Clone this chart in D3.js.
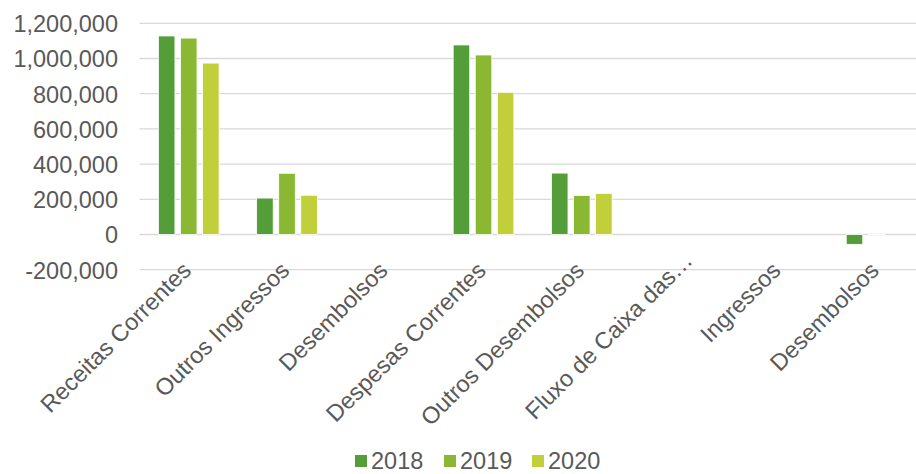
<!DOCTYPE html>
<html>
<head>
<meta charset="utf-8">
<script src="https://cdn.jsdelivr.net/npm/d3@7"></script>
<style>
  body { margin: 0; background: #fff; }
  svg { display: block; }
  text { font-family: "Liberation Sans", Arial, sans-serif; fill: #595959; }
</style>
</head>
<body>
<svg id="chart" width="916" height="474"></svg>
<script>
var categories = ["Receitas Correntes", "Outros Ingressos", "Desembolsos", "Despesas Correntes",
    "Outros Desembolsos", "Fluxo de Caixa das\u2026", "Ingressos", "Desembolsos"];
var years = ["2018", "2019", "2020"];
var values2018 = [1128000, 207000, 0, 1077000, 349000, 0, 0, -56000];
var values2019 = [1116000, 348000, 0, 1020000, 222000, 0, 0, -1500];
var values2020 = [974000, 223000, 0, 808000, 234000, 0, 0, 0];
var yTicks = [-200000, 0, 200000, 400000, 600000, 800000, 1000000, 1200000];
var colors = ["#549E39", "#8AB833", "#C0CF3A"];

var series = [values2018, values2019, values2020];

var margin = { left: 139.6, right: 925.7, top: 23.3, bottom: 269.7 };
var fontSize = 23.5;

var svg = d3.select("#chart");

// plain hyphen for negatives, like the source spreadsheet
var fmt = d3.formatLocale({ decimal: ".", thousands: ",", grouping: [3], currency: ["", ""], minus: "-" })
    .format(",.0f");

// category positions use index so the two "Desembolsos" stay separate
var x0 = d3.scaleBand()
    .domain(d3.range(categories.length))
    .range([margin.left, margin.right]);

var x1 = d3.scaleBand()
    .domain(years)
    .range([-33, 33])
    .paddingInner(0.25)
    .paddingOuter(0.12);

var y = d3.scaleLinear()
    .domain([-200000, 1200000])
    .range([margin.bottom, margin.top]);

// gridlines
svg.append("g")
    .selectAll("line")
    .data(yTicks)
    .enter().append("line")
    .attr("x1", margin.left)
    .attr("x2", margin.right)
    .attr("y1", function(d) { return y(d); })
    .attr("y2", function(d) { return y(d); })
    .attr("stroke", "#d9d9d9")
    .attr("stroke-width", 1.3);

// y axis labels
var yAxis = d3.axisLeft(y)
    .tickValues(yTicks)
    .tickSize(0)
    .tickPadding(0)
    .tickFormat(fmt);

var yg = svg.append("g")
    .attr("transform", "translate(118,0)")
    .call(yAxis);
yg.select(".domain").remove();
yg.selectAll("text")
    .attr("font-family", null)
    .style("font-size", fontSize + "px")
    .attr("dy", "0.36em");

// bars
var groups = svg.append("g")
    .selectAll("g")
    .data(categories)
    .enter().append("g")
    .attr("transform", function(d, i) { return "translate(" + (x0(i) + x0.bandwidth() / 2) + ",0)"; });

groups.selectAll("rect")
    .data(function(d, i) {
        return years.map(function(yr, k) { return { year: yr, k: k, value: series[k][i] }; });
    })
    .enter().append("rect")
    .filter(function(d) { return d.value !== 0; })
    .attr("x", function(d) { return x1(d.year); })
    .attr("width", x1.bandwidth())
    .attr("y", function(d) { return y(Math.max(0, d.value)); })
    .attr("height", function(d) { return Math.abs(y(d.value) - y(0)); })
    .attr("fill", function(d) { return colors[d.k]; })
    .attr("stroke", "#fff")
    .attr("stroke-width", 0.8);

// x labels, rotated (truncated label sticks out a bit further, as in excel)
svg.append("g")
    .selectAll("text")
    .data(categories)
    .enter().append("text")
    .attr("transform", function(d, i) {
        return "translate(" + (x0(i) + x0.bandwidth() / 2 - 2) + ",266) rotate(-45)";
    })
    .attr("text-anchor", "end")
    .attr("dy", "0.35em")
    .attr("dx", function(d) { return d.slice(-1) === "\u2026" ? "0.6em" : 0; })
    .style("font-size", fontSize + "px")
    .text(function(d) { return d; });

// legend
var legendX = [355, 444, 532];
var legend = svg.append("g")
    .selectAll("g")
    .data(years)
    .enter().append("g")
    .attr("transform", function(d, i) { return "translate(" + legendX[i] + ",455)"; });

legend.append("rect")
    .attr("width", 12)
    .attr("height", 12)
    .attr("fill", function(d, i) { return colors[i]; });

legend.append("text")
    .attr("x", 16)
    .attr("y", 14)
    .style("font-size", fontSize + "px")
    .text(function(d) { return d; });
</script>
</body>
</html>
